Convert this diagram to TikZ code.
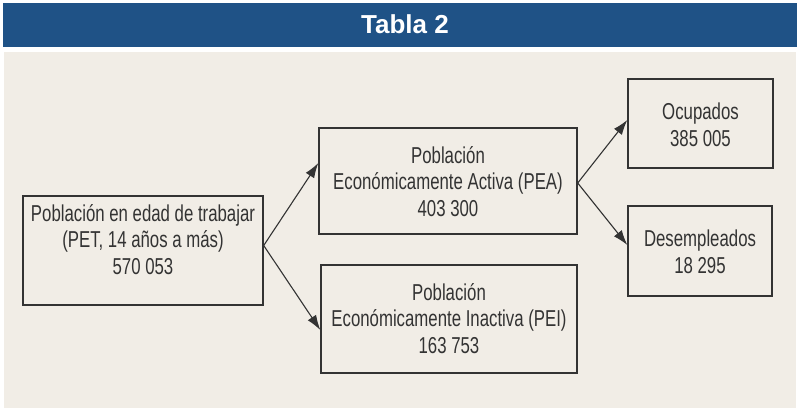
\documentclass[tikz,border=0pt]{standalone}
\usepackage{fontspec}
\setmainfont{Liberation Sans}
\newfontfamily\narrowfont[FakeStretch=0.73]{Liberation Sans}
\usetikzlibrary{arrows.meta}
\definecolor{hdrblue}{HTML}{1F5286}
\definecolor{bgbeige}{HTML}{F1EDE6}
\definecolor{inkgray}{HTML}{333333}
\begin{document}
\begin{tikzpicture}[x=1pt,y=-1pt,
  boxnode/.style={draw=inkgray,line width=1.4pt,rectangle,inner sep=0pt},
  txt/.style={align=center,text=inkgray,font=\narrowfont\fontsize{23}{26.8}\selectfont,inner sep=0pt},
  arr/.style={draw=inkgray,line width=1.1pt,-{Latex[length=15pt,width=10pt]}}]
\useasboundingbox (0,0) rectangle (798,408);
\fill[white] (0,0) rectangle (798,408);
\fill[hdrblue] (3,3) rectangle (797,47);
\fill[bgbeige] (4,52) rectangle (796,408);
\node[font=\bfseries\fontsize{26}{30}\selectfont,text=white,inner sep=0pt] (title) at (405,24) {Tabla 2};
% boxes
\node[boxnode,minimum width=240pt,minimum height=109pt] (pet) at (143,250.5) {};
\node[txt] (pettxt) at (143,239.5) {Población en edad de trabajar\\(PET, 14 años a más)\\570 053};
\node[boxnode,minimum width=258pt,minimum height=106pt] (pea) at (448,181) {};
\node[txt] (peatxt) at (448,181.5) {Población\\Económicamente Activa (PEA)\\403 300};
\node[boxnode,minimum width=256pt,minimum height=108pt] (pei) at (449,319) {};
\node[txt] (peitxt) at (449,318.5) {Población\\Económicamente Inactiva (PEI)\\163 753};
\node[boxnode,minimum width=145pt,minimum height=89pt] (ocu) at (700.5,123.5) {};
\node[txt] (ocutxt) at (700.5,125) {Ocupados\\385 005};
\node[boxnode,minimum width=144pt,minimum height=90pt] (des) at (700,251) {};
\node[txt] (destxt) at (700,252) {Desempleados\\18 295};
% arrows
\draw[arr] ([yshift=5pt]pet.east) -- ([yshift=18pt]pea.west);
\draw[arr] ([yshift=5pt]pet.east) -- ([yshift=-11pt]pei.west);
\draw[arr] ([yshift=-2pt]pea.east) -- ([yshift=3.5pt]ocu.west);
\draw[arr] ([yshift=-2pt]pea.east) -- ([yshift=6pt]des.west);
\end{tikzpicture}
\end{document}
